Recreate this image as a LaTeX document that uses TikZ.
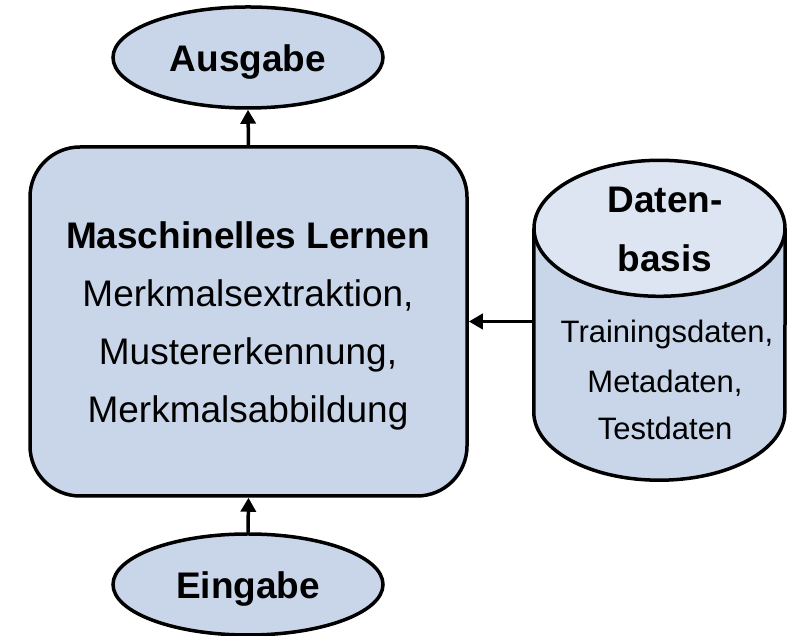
\documentclass[tikz,border=0pt]{standalone}
\usepackage{fontspec}
\setmainfont{Liberation Sans}
\usetikzlibrary{arrows.meta,shapes.geometric}

\definecolor{bodyfill}{RGB}{201,214,234}
\definecolor{topfill}{RGB}{221,228,242}

\tikzset{
  outline/.style={draw=black, line width=3.5pt},
  bigtext/.style={font=\fontsize{37pt}{44pt}\selectfont},
  smalltext/.style={font=\fontsize{31pt}{37pt}\selectfont},
  terminal/.style={ellipse, outline, fill=bodyfill, inner sep=0pt,
    minimum width=270pt, minimum height=101pt,
    font=\bfseries\fontsize{37pt}{44pt}\selectfont,
    text height=29pt, text depth=0pt},
  process/.style={rectangle, outline, fill=bodyfill, rounded corners=50pt,
    minimum width=437pt, minimum height=349pt, inner sep=0pt},
  dbbody/.style={rectangle, inner sep=0pt, minimum width=251pt, minimum height=183.5pt},
  flow/.style={line width=3.5pt, -{Triangle[width=15pt,length=14pt]}},
  lineat/.style={anchor=base, inner sep=0pt}
}

\begin{document}
\begin{tikzpicture}[x=1pt, y=1pt]
  \useasboundingbox (0,0) rectangle (787,636);

  % input, learning block, output
  \node[terminal] (out) at (248,578.5) {Ausgabe};
  \node[terminal] (in)  at (248,51.5)  {Eingabe};
  \node[process]  (ml)  at (248.5,314.5) {};

  \node[lineat, bigtext, font=\bfseries\fontsize{37pt}{44pt}\selectfont] (ml1) at (248,387) {Maschinelles Lernen};
  \node[lineat, bigtext] (ml2) at (248,329) {Merkmalsextraktion,};
  \node[lineat, bigtext] (ml3) at (248,271) {Mustererkennung,};
  \node[lineat, bigtext] (ml4) at (248,213) {Merkmalsabbildung};

  % database cylinder
  \node[dbbody] (db) at (659.5,315.75) {};
  \fill[bodyfill] (db.north west) -- (db.south west)
    arc[start angle=180, end angle=360, x radius=125.5pt, y radius=68pt]
    -- (db.north east) -- cycle;
  \draw[outline] (db.north west) -- (db.south west)
    arc[start angle=180, end angle=360, x radius=125.5pt, y radius=68pt]
    -- (db.north east);
  \draw[outline, fill=topfill] (db.north) ellipse[x radius=125.5pt, y radius=68pt];

  \node[lineat, font=\bfseries\fontsize{37pt}{44pt}\selectfont] (db1) at (665,423) {Daten-};
  \node[lineat, font=\bfseries\fontsize{37pt}{44pt}\selectfont] (db2) at (665,364) {basis};
  \node[lineat, smalltext] (db3) at (667,293) {Trainingsdaten,};
  \node[lineat, smalltext] (db4) at (665,243) {Metadaten,};
  \node[lineat, smalltext] (db5) at (665,196) {Testdaten};

  % connectors
  \draw[flow] (ml.north) -- (out.south);
  \draw[flow] (in.north) -- (ml.south);
  \draw[flow] (db.west |- ml.east) -- (ml.east);
\end{tikzpicture}
\end{document}
